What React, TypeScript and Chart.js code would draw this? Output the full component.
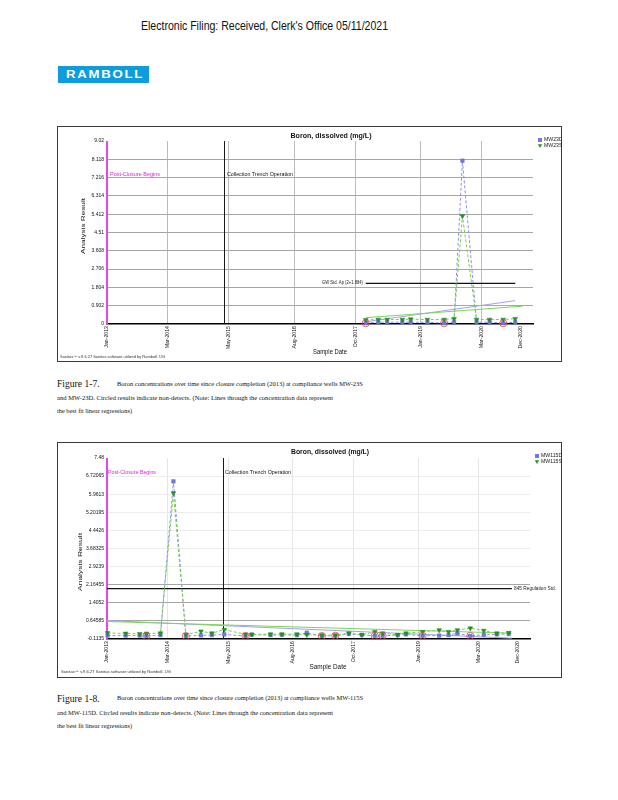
import React, { useEffect, useLayoutEffect, useRef } from 'react';
import { Chart, registerables } from 'chart.js';

Chart.register(...registerables);

const SANS = "'Liberation Sans', Arial, Helvetica, sans-serif";
const SERIF = "'Liberation Serif', 'Times New Roman', Times, serif";

// ---------- shared time axis (decimal years) ----------
const xTickValues = [2013.0, 2014.167, 2015.333, 2016.583, 2017.75, 2019.0, 2020.167, 2020.917];
const xTickLabels = ['Jan-2013', 'Mar-2014', 'May-2015', 'Aug-2016', 'Oct-2017', 'Jan-2019', 'Mar-2020', 'Dec-2020'];
const xRange = [2013.0, 2021.15];
const postClosureDate = 2013.0;
const trenchStartDate = 2015.24;
const boronLimit = 2.0;

// ---------- Figure 1-7 : MW-23D / MW-23S ----------
const y17TickValues = [0, 0.902, 1.804, 2.706, 3.608, 4.51, 5.412, 6.314, 7.216, 8.118, 9.02];
const y17TickLabels = ['0', '0.902', '1.804', '2.706', '3.608', '4.51', '5.412', '6.314', '7.216', '8.118', '9.02'];
const dates23 = [2017.95, 2018.19, 2018.36, 2018.65, 2018.81, 2019.13, 2019.45, 2019.64, 2019.8, 2020.07, 2020.32, 2020.58, 2020.81];
const mw23D = [0.04, 0.09, 0.09, 0.09, 0.09, 0.09, 0.04, 0.09, 8.05, 0.09, 0.09, 0.04, 0.09];
const mw23S = [0.2, 0.22, 0.22, 0.22, 0.24, 0.22, 0.22, 0.26, 5.32, 0.22, 0.22, 0.22, 0.26];
const mw23DNonDetect = [0, 6, 11];
const reg23DDates = [2017.95, 2020.81];
const reg23DValues = [0.11, 1.15];
const reg23SDates = [2017.95, 2020.95];
const reg23SValues = [0.31, 0.88];
const limit23Dates = [2017.95, 2020.81];

// ---------- Figure 1-8 : MW-115D / MW-115S ----------
const y18TickValues = [-0.1135, 0.64585, 1.4052, 2.16455, 2.9239, 3.68325, 4.4426, 5.20195, 5.9613, 6.72065, 7.48];
const y18TickLabels = ['-0.1135', '0.64585', '1.4052', '2.16455', '2.9239', '3.68325', '4.4426', '5.20195', '5.9613', '6.72065', '7.48'];
const dates115 = [2013.01, 2013.36, 2013.63, 2013.76, 2014.03, 2014.28, 2014.52, 2014.81, 2015.02, 2015.26, 2015.67, 2015.79, 2016.15, 2016.37, 2016.66, 2016.85, 2017.14, 2017.4, 2017.66, 2017.91, 2018.16, 2018.31, 2018.6, 2018.76, 2019.08, 2019.4, 2019.58, 2019.75, 2020.0, 2020.26, 2020.51, 2020.74];
const mw115D = [0.03, 0.03, 0.03, 0.01, 0.05, 6.5, 0.01, 0.04, 0.05, 0.08, 0.01, 0.07, 0.05, 0.06, 0.05, 0.15, 0.01, 0.02, 0.1, 0.06, 0.02, 0.02, 0.05, 0.08, 0.02, 0.03, 0.05, 0.12, 0.02, 0.06, 0.08, 0.1];
const mw115S = [0.14, 0.12, 0.1, 0.12, 0.13, 6.01, 0.07, 0.21, 0.13, 0.28, 0.08, 0.08, 0.09, 0.09, 0.09, 0.06, 0.05, 0.05, 0.13, 0.06, 0.19, 0.13, 0.06, 0.13, 0.19, 0.26, 0.19, 0.26, 0.34, 0.24, 0.13, 0.15];
const mw115DNonDetect = [3, 6, 10, 16, 17, 20, 21, 24, 28];
const reg115DDates = [2013.0, 2020.8];
const reg115DValues = [0.66, -0.08];
const reg115SDates = [2013.0, 2020.8];
const reg115SValues = [0.62, 0.13];
const limit115Dates = [2013.0, 2020.8];

const BLUE = '#7676e4';
const BLUE_LINE = '#8f8fea';
const GREEN = '#1f9a1f';
const GREEN_LINE = '#72d04c';

function drawFit(ctx: any, text: string, x: number, y: number, w: number, font: string, color: string, align: string = 'left', rot: number = 0) {
  ctx.save();
  ctx.font = font;
  ctx.fillStyle = color;
  ctx.textBaseline = 'middle';
  ctx.textAlign = align;
  const nat = ctx.measureText(text).width || 1;
  ctx.translate(x, y);
  if (rot) ctx.rotate(rot);
  ctx.scale(w / nat, 1);
  ctx.fillText(text, 0, 0);
  ctx.restore();
}

function makeOverlay(c: any) {
  const T = c.text;
  const ox = c.ox;
  const oy = c.oy;
  return {
    id: 'overlay',
    beforeDatasetsDraw(chart: any) {
      const { ctx, chartArea: a, scales } = chart;
      const xs = scales.x;
      ctx.save();
      const tx = Math.round(xs.getPixelForValue(trenchStartDate)) + 0.5;
      ctx.strokeStyle = '#1a1a1a';
      ctx.lineWidth = 1;
      ctx.beginPath();
      ctx.moveTo(tx, a.top);
      ctx.lineTo(tx, a.bottom);
      ctx.stroke();
      const px = xs.getPixelForValue(postClosureDate);
      ctx.strokeStyle = '#e24ae6';
      ctx.lineWidth = 2;
      ctx.beginPath();
      ctx.moveTo(px, a.top);
      ctx.lineTo(px, a.bottom);
      ctx.stroke();
      ctx.restore();
    },
    afterDraw(chart: any) {
      const { ctx } = chart;
      drawFit(ctx, 'Boron, dissolved (mg/L)', T.title[0] - ox, T.title[1] - oy, T.title[2], `bold 7px ${SANS}`, '#111', 'center');
      drawFit(ctx, 'Post-Closure Begins', T.post[0] - ox, T.post[1] - oy, T.post[2], `5px ${SANS}`, '#d81ed8', 'left');
      drawFit(ctx, 'Collection Trench Operation', T.trench[0] - ox, T.trench[1] - oy, T.trench[2], `5px ${SANS}`, '#111', 'left');
      drawFit(ctx, c.limitLabel, T.limit[0] - ox, T.limit[1] - oy, T.limit[2], `4.5px ${SANS}`, '#222', T.limit[3]);
      drawFit(ctx, 'Analysis Result', T.yTitle[0] - ox, T.yTitle[1] - oy, T.yTitle[2], `6px ${SANS}`, '#111', 'center', -Math.PI / 2);
      drawFit(ctx, 'Sample Date', T.xTitle[0] - ox, T.xTitle[1] - oy, T.xTitle[2], `6.5px ${SANS}`, '#111', 'center');
      drawFit(ctx, c.footer, T.footer[0] - ox, T.footer[1] - oy, T.footer[2], `3.5px ${SANS}`, '#333', 'left');
      const lx = T.legend[0] - ox;
      const r1 = T.legend[1] - oy;
      const r2 = T.legend[2] - oy;
      ctx.save();
      ctx.fillStyle = BLUE;
      ctx.fillRect(lx - 2, r1 - 2, 4, 4);
      ctx.fillStyle = GREEN;
      ctx.beginPath();
      ctx.moveTo(lx - 2.2, r2 - 1.8);
      ctx.lineTo(lx + 2.2, r2 - 1.8);
      ctx.lineTo(lx, r2 + 2);
      ctx.closePath();
      ctx.fill();
      ctx.font = `5.2px ${SANS}`;
      ctx.fillStyle = '#222';
      ctx.textBaseline = 'middle';
      ctx.textAlign = 'left';
      ctx.fillText(c.deepName, lx + 4, r1);
      ctx.fillText(c.shallowName, lx + 4, r2);
      ctx.restore();
    },
  };
}

function buildConfig(c: any) {
  const mk = (xs: number[], ys: number[]) => xs.map((x, i) => ({ x, y: ys[i] }));
  const datasets: any[] = [
    {
      label: 'non-detect',
      data: c.ndDeep.map((i: number) => ({ x: c.dates[i], y: c.deep[i] })),
      showLine: false,
      pointStyle: 'circle',
      pointRadius: 3.6,
      backgroundColor: 'rgba(0,0,0,0)',
      borderColor: '#e04848',
      pointBackgroundColor: 'rgba(0,0,0,0)',
      pointBorderColor: '#e04848',
      pointBorderWidth: 0.8,
      order: 0,
      clip: false,
    },
    {
      label: c.shallowName,
      data: mk(c.dates, c.shallow),
      borderColor: GREEN_LINE,
      borderWidth: 1,
      borderDash: [3, 2],
      pointStyle: 'triangle',
      pointRotation: 180,
      pointRadius: 2.7,
      pointBackgroundColor: GREEN,
      pointBorderColor: '#167f16',
      pointBorderWidth: 0.5,
      tension: 0,
      order: 1,
      clip: false,
    },
    {
      label: c.deepName,
      data: mk(c.dates, c.deep),
      borderColor: BLUE_LINE,
      borderWidth: 1,
      borderDash: [3, 2],
      pointStyle: 'rect',
      pointRadius: 2.5,
      pointBackgroundColor: BLUE,
      pointBorderColor: '#6060d2',
      pointBorderWidth: 0.5,
      tension: 0,
      order: 2,
      clip: false,
    },
    {
      label: 'reg-s',
      data: mk(c.regShallow.x, c.regShallow.y),
      borderColor: '#7bd657',
      borderWidth: 1,
      pointRadius: 0,
      order: 3,
    },
    {
      label: 'reg-d',
      data: mk(c.regDeep.x, c.regDeep.y),
      borderColor: '#a2a2ee',
      borderWidth: 1,
      pointRadius: 0,
      order: 4,
    },
    {
      label: 'limit',
      data: mk(c.limitDates, [boronLimit, boronLimit]),
      borderColor: '#111',
      borderWidth: 1.2,
      pointRadius: 0,
      order: 5,
    },
  ];
  const lastX = xTickValues[xTickValues.length - 1];
  return {
    type: 'line',
    data: { datasets },
    options: {
      responsive: false,
      animation: false,
      events: [],
      layout: { padding: { left: 0, top: c.plot.top - c.oy, right: c.ox + c.w - c.plot.right, bottom: 0 } },
      plugins: { legend: { display: false }, title: { display: false }, tooltip: { enabled: false } },
      scales: {
        x: {
          type: 'linear',
          min: xRange[0],
          max: xRange[1],
          afterBuildTicks: (s: any) => {
            s.ticks = xTickValues.map((v) => ({ value: v }));
          },
          afterFit: (s: any) => {
            s.height = c.oy + c.h - c.plot.bottom;
          },
          ticks: {
            autoSkip: false,
            maxRotation: 90,
            minRotation: 90,
            padding: 2,
            color: '#111',
            font: { family: SANS, size: 5.2 },
            callback: (_v: any, i: number) => xTickLabels[i],
          },
          grid: {
            drawTicks: false,
            lineWidth: 1,
            color: (g: any) => (g.tick && (g.tick.value === lastX || g.tick.value === xRange[0]) ? 'rgba(0,0,0,0)' : c.vGrid),
          },
          border: { display: true, color: '#000', width: 1.5 },
        },
        y: {
          type: 'linear',
          min: c.yTicks[0],
          max: c.yTicks[c.yTicks.length - 1],
          afterBuildTicks: (s: any) => {
            s.ticks = c.yTicks.map((v: number) => ({ value: v }));
          },
          afterFit: (s: any) => {
            s.width = c.plot.left - c.ox;
          },
          ticks: {
            padding: 3,
            color: '#111',
            font: { family: SANS, size: 5 },
            callback: (_v: any, i: number) => c.yLabels[i],
          },
          grid: {
            drawTicks: false,
            lineWidth: 1,
            color: (g: any) => {
              if (!g.tick) return c.hGrid;
              const v = g.tick.value;
              if (v === c.yTicks[c.yTicks.length - 1] || v === c.yTicks[0]) return 'rgba(0,0,0,0)';
              return v > c.hGridSplit ? c.hGridUpper : c.hGrid;
            },
          },
          border: { display: false },
        },
      },
    },
    plugins: [makeOverlay(c)],
  };
}

const panel17 = {
  ox: 57, oy: 126, w: 505, h: 236,
  plot: { left: 107, right: 533, top: 141, bottom: 324 },
  yTicks: y17TickValues, yLabels: y17TickLabels,
  dates: dates23, deep: mw23D, shallow: mw23S, ndDeep: mw23DNonDetect,
  deepName: 'MW23D', shallowName: 'MW23S',
  regDeep: { x: reg23DDates, y: reg23DValues },
  regShallow: { x: reg23SDates, y: reg23SValues },
  limitDates: limit23Dates,
  limitLabel: 'GW Std. Ap (2+1.884)',
  footer: 'Sanitas\u2122 v.9.6.27 Sanitas software utilized by Ramboll. UG',
  hGrid: '#a6a6a6', hGridUpper: '#a6a6a6', hGridSplit: 100, vGrid: '#bcbcbc',
  text: {
    title: [331, 136, 81],
    legend: [540, 140, 146],
    post: [110, 175, 50],
    trench: [227, 174.5, 66],
    limit: [363, 283, 41, 'right'],
    yTitle: [83, 226, 56],
    xTitle: [330, 352.5, 34],
    footer: [60, 357, 105],
  },
};

const panel18 = {
  ox: 57, oy: 442, w: 505, h: 236,
  plot: { left: 107, right: 530, top: 458, bottom: 639 },
  yTicks: y18TickValues, yLabels: y18TickLabels,
  dates: dates115, deep: mw115D, shallow: mw115S, ndDeep: mw115DNonDetect,
  deepName: 'MW115D', shallowName: 'MW115S',
  regDeep: { x: reg115DDates, y: reg115DValues },
  regShallow: { x: reg115SDates, y: reg115SValues },
  limitDates: limit115Dates,
  limitLabel: '845 Regulation Std.',
  footer: 'Sanitas\u2122 v.9.6.27 Sanitas software utilized by Ramboll. UG',
  hGrid: '#a6a6a6', hGridUpper: '#ededed', hGridSplit: 2.5, vGrid: '#e6e6e6',
  text: {
    title: [330, 452, 78],
    legend: [537, 456, 462],
    post: [108, 472.5, 48],
    trench: [225, 472.5, 66],
    limit: [514, 589, 42, 'left'],
    yTitle: [80, 562, 58],
    xTitle: [328, 667.5, 37],
    footer: [61, 672.3, 110],
  },
};

function Panel({ cfg }: { cfg: any }) {
  const ref = useRef<HTMLCanvasElement>(null);
  useEffect(() => {
    if (!ref.current) return;
    const chart = new Chart(ref.current, buildConfig(cfg) as any);
    return () => chart.destroy();
  }, [cfg]);
  return (
    <>
      <div
        style={{
          position: 'absolute', left: cfg.ox, top: cfg.oy, width: cfg.w, height: cfg.h,
          border: '1.5px solid #3a3a3a', boxSizing: 'border-box',
        }}
      />
      <canvas
        ref={ref}
        width={cfg.w}
        height={cfg.h}
        style={{ position: 'absolute', left: cfg.ox, top: cfg.oy, width: cfg.w, height: cfg.h }}
      />
    </>
  );
}

function FitText({ x, yc, w, size, family, text, color = '#111', weight = 400, spacing = 0 }: any) {
  const ref = useRef<HTMLSpanElement>(null);
  useLayoutEffect(() => {
    const el = ref.current;
    if (!el) return;
    el.style.transform = 'none';
    const nat = el.getBoundingClientRect().width;
    if (nat > 0) el.style.transform = `scaleX(${w / nat})`;
  }, [text, w, size]);
  return (
    <span
      ref={ref}
      style={{
        position: 'absolute', left: x, top: yc - size * 0.5, fontSize: size, lineHeight: 1,
        fontFamily: family, fontWeight: weight, color, whiteSpace: 'nowrap', transformOrigin: '0 0',
        letterSpacing: spacing,
      }}
    >
      {text}
    </span>
  );
}

function Caption({ fig, y, lines }: { fig: string; y: number[]; lines: string[] }) {
  return (
    <>
      <FitText x={57} yc={y[0]} w={42.6} size={9.6} family={SERIF} text={fig} color="#111" />
      <FitText x={116.7} yc={y[0]} w={246} size={6.4} family={SERIF} text={lines[0]} color="#111" />
      <FitText x={57} yc={y[1]} w={276} size={6.4} family={SERIF} text={lines[1]} color="#111" />
      <FitText x={57} yc={y[2]} w={75} size={6.4} family={SERIF} text={lines[2]} color="#111" />
    </>
  );
}

export default function App() {
  return (
    <div style={{ position: 'absolute', left: 0, top: 0, width: 618, height: 800, background: '#fff', overflow: 'hidden' }}>
      <FitText x={141} yc={25} w={247} size={13} family={SANS} text="Electronic Filing: Received, Clerk's Office 05/11/2021" color="#111" />
      <div style={{ position: 'absolute', left: 58, top: 66, width: 91, height: 17, background: '#0d9ddf' }} />
      <FitText x={66} yc={75} w={78} size={11.5} family={SANS} weight={700} spacing={1.5} text="RAMBOLL" color="#fff" />
      <Panel cfg={panel17} />
      <Caption
        fig="Figure 1-7."
        y={[384, 397.7, 410.7]}
        lines={[
          'Boron concentrations over time since closure completion (2013) at compliance wells MW-23S',
          'and MW-23D.  Circled results indicate non-detects. (Note: Lines through the concentration data represent',
          'the best fit linear regressions)',
        ]}
      />
      <Panel cfg={panel18} />
      <Caption
        fig="Figure 1-8."
        y={[698.3, 713, 725.7]}
        lines={[
          'Boron concentrations over time since closure completion (2013) at compliance wells MW-115S',
          'and MW-115D. Circled results indicate non-detects. (Note: Lines through the concentration data represent',
          'the best fit linear regressions)',
        ]}
      />
    </div>
  );
}
